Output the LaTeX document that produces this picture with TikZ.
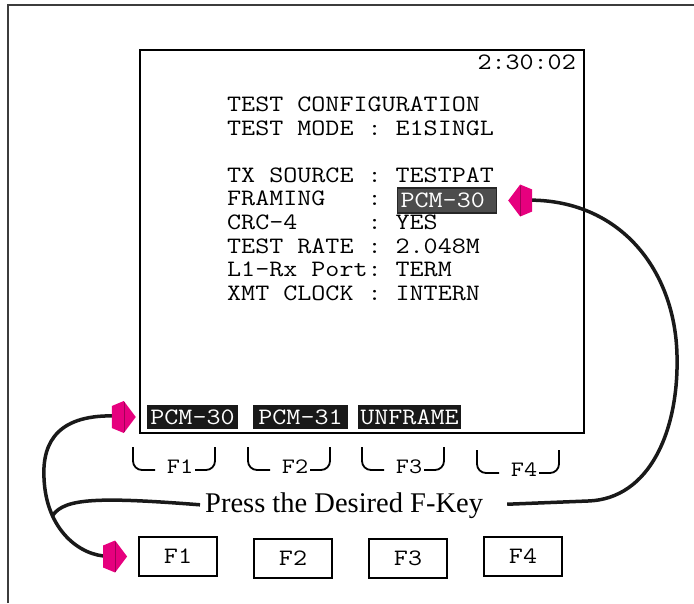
\documentclass[tikz,border=0pt]{standalone}
\usepackage{fontspec}
\usepackage{graphicx}
\newfontfamily\keyfont{Liberation Serif}
\newcommand\lcd[1]{\scalebox{1.16}[1]{#1}}   % widened typewriter text
\newcommand\pinkhead[2]{%   pink double head, tip 11pt before anchor #1, #2 = 1 (right) or -1 (left)
  \fill [arrowpink, shift={(#1)}, xscale=#2] (-11,0) -- (-23,-16) -- (-35,-11) -- (-35,11) -- (-23,16) -- cycle;
  \draw [arrowpink!70!black, line width=0.4pt, shift={(#1)}, xscale=#2] (-23,-15) -- (-23,15);}
\definecolor{arrowpink}{RGB}{230,0,126}
\definecolor{framegray}{RGB}{60,60,60}
\definecolor{selgray}{RGB}{77,77,77}

\tikzset{
  scrtext/.style={font=\fontsize{23.5}{23.5}\selectfont\ttfamily, inner sep=0pt},
  selbox/.style={fill=selgray, draw=black!85, line width=1.2pt, text=white, font=\fontsize{23.5}{23.5}\selectfont\ttfamily,
    inner xsep=3pt, inner ysep=0pt, minimum height=25pt, text width=93pt, align=left},
  softkey/.style={fill=black!90, text=white, font=\fontsize{23.5}{23.5}\selectfont\ttfamily, inner sep=0pt, minimum height=24pt},
  fkey/.style={draw, line width=1.8pt, minimum width=78pt, minimum height=39pt, font=\fontsize{23.5}{23.5}\selectfont\ttfamily, inner sep=0pt},
  fkeylabel/.style={font=\fontsize{22}{22}\selectfont\ttfamily, inner sep=0pt},
  bracket/.style={line width=1.8pt, rounded corners=9pt},
  link/.style={line width=3.5pt, black!90},
}

\begin{document}
\begin{tikzpicture}[x=1pt,y=-1pt]
\useasboundingbox (0,0) rectangle (694,603);
\draw [line width=1.5pt, framegray] (8,603) -- (8,5) -- (694,5);   % outer frame

\node [draw, line width=2pt, minimum width=444pt, minimum height=383pt, inner sep=0pt] (scrn) at (362,241.5) {};   % tester screen
\node [scrtext, anchor=base east] (clock) at (576,69) {\lcd{2:30:02}};

\node [scrtext, anchor=base west] (title)  at (227,111.5) {\lcd{TEST~CONFIGURATION}};
\node [scrtext, anchor=base west] (mode)   at (227,135.1) {\lcd{TEST~MODE~:~E1SINGL}};
\node [scrtext, anchor=base west] (source) at (227,182.3) {\lcd{TX~SOURCE~:~TESTPAT}};
\node [scrtext, anchor=base west] (frm)    at (227,205.9) {\lcd{FRAMING~~~:}};
\node [selbox, anchor=west] (framesel) at (397,200.5) {\lcd{PCM-30}};   % highlighted value
\node [scrtext, anchor=base west] (crc)    at (227,229.5) {\lcd{CRC-4~~~~~:~YES}};
\node [scrtext, anchor=base west] (rate)   at (227,253.1) {\lcd{TEST~RATE~:~2.048M}};
\node [scrtext, anchor=base west] (port)   at (227,276.7) {\lcd{L1-Rx~Port:~TERM}};
\node [scrtext, anchor=base west] (xmt)    at (227,300.3) {\lcd{XMT~CLOCK~:~INTERN}};

\node [softkey, minimum width=91pt]  (soft1) at (192.5,417) {\lcd{PCM-30}};   % soft key menu
\node [softkey, minimum width=95pt]  (soft2) at (300.5,417) {\lcd{PCM-31}};
\node [softkey, minimum width=103pt] (soft3) at (409.5,417) {\lcd{UNFRAME}};

\foreach \i/\bx/\by in {1/133/447,2/248/447,3/362/447,4/477/450} {
  \draw [bracket] (\bx,\by) -- (\bx,\by+23) -- (\bx+22,\by+23);          % left hook
  \draw [bracket] (\bx+62,\by+23) -- (\bx+82,\by+23) -- (\bx+82,\by);    % right hook
  \node [fkeylabel, anchor=base] (lbl\i) at (\bx+47,\by+26) {\lcd{F\i}};
}

\node [anchor=base west, inner sep=0pt, font=\keyfont\fontsize{28.5}{30}\selectfont] (press) at (205,512) {Press the Desired F-Key};

\foreach \i/\kx/\ky in {1/178/556.5,2/293/558.5,3/408/558.5,4/523/556.5}
  \node [fkey] (key\i) at (\kx,\ky) {\lcd{F\i}};   % hardware keys

\coordinate (jn) at (53,515);
\draw [link, shorten <=30pt, shorten >=30pt] (soft1.west)
    .. controls (60,414) and (42,440) .. (44,478)
    .. controls (46,530) and (80,556) .. (key1.west);
\draw [link, shorten <=5pt] (press.west) .. controls (100,497) and (65,498) .. (jn);
\draw [link, shorten <=24pt, shorten >=30pt] (press.east) -- (588,501)
    .. controls (650,499) and (679,430) .. (677,355)
    .. controls (675,270) and (620,199) .. (framesel.east);
\pinkhead{soft1.west}{1}
\pinkhead{key1.west}{1}
\pinkhead{framesel.east}{-1}
\end{tikzpicture}
\end{document}
